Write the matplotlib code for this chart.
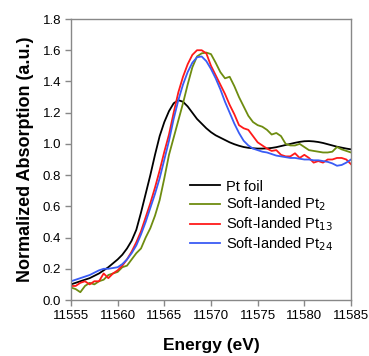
import numpy as np
import matplotlib
matplotlib.use('Agg')
import matplotlib.pyplot as plt

plt.rcParams['font.family'] = ['Liberation Sans', 'DejaVu Sans']

# energy grid (eV), 0.5 eV steps
energy = np.arange(11555, 11585.01, 0.5)

pt_foil = [0.10, 0.11, 0.12, 0.13, 0.14, 0.155, 0.17, 0.19, 0.21, 0.235,
           0.26, 0.29, 0.33, 0.38, 0.45, 0.56, 0.68, 0.80, 0.93, 1.05,
           1.14, 1.21, 1.26, 1.28, 1.27, 1.24, 1.20, 1.16, 1.13, 1.10,
           1.075, 1.055, 1.04, 1.025, 1.01, 0.998, 0.988, 0.98, 0.975, 0.972,
           0.97, 0.97, 0.971, 0.974, 0.979, 0.986, 0.993, 1.0, 1.007, 1.013,
           1.017, 1.018, 1.016, 1.012, 1.006, 0.998, 0.99, 0.982, 0.976, 0.97,
           0.965]

pt2 = [0.08, 0.07, 0.05, 0.09, 0.11, 0.10, 0.12, 0.13, 0.16, 0.17,
       0.18, 0.21, 0.22, 0.26, 0.30, 0.33, 0.40, 0.46, 0.54, 0.64,
       0.78, 0.93, 1.04, 1.15, 1.26, 1.38, 1.49, 1.56, 1.58, 1.585,
       1.575, 1.52, 1.46, 1.42, 1.43, 1.37, 1.30, 1.24, 1.18, 1.14,
       1.12, 1.11, 1.09, 1.06, 1.07, 1.05, 1.00, 0.99, 0.99, 1.00,
       0.98, 0.96, 0.955, 0.95, 0.945, 0.945, 0.95, 0.98, 0.965, 0.955,
       0.945]

pt13 = [0.09, 0.09, 0.11, 0.12, 0.10, 0.12, 0.12, 0.17, 0.14, 0.17,
        0.19, 0.22, 0.26, 0.31, 0.37, 0.44, 0.53, 0.62, 0.72, 0.83,
        0.95, 1.06, 1.20, 1.33, 1.43, 1.51, 1.57, 1.60, 1.60, 1.58,
        1.50, 1.44, 1.38, 1.32, 1.25, 1.19, 1.12, 1.10, 1.09, 1.05,
        1.01, 0.99, 0.97, 0.955, 0.96, 0.93, 0.92, 0.92, 0.94, 0.91,
        0.93, 0.91, 0.88, 0.89, 0.88, 0.90, 0.90, 0.91, 0.91, 0.90,
        0.87]

pt24 = [0.12, 0.13, 0.14, 0.15, 0.16, 0.175, 0.19, 0.20, 0.20, 0.205,
        0.21, 0.23, 0.26, 0.30, 0.35, 0.42, 0.50, 0.59, 0.68, 0.78,
        0.90, 1.02, 1.16, 1.28, 1.38, 1.46, 1.52, 1.555, 1.56, 1.53,
        1.48, 1.42, 1.35, 1.27, 1.20, 1.13, 1.07, 1.02, 0.99, 0.97,
        0.96, 0.95, 0.945, 0.935, 0.925, 0.92, 0.915, 0.91, 0.91, 0.905,
        0.90, 0.90, 0.895, 0.895, 0.89, 0.885, 0.875, 0.86, 0.865, 0.88,
        0.90]

xticks = [11555, 11560, 11565, 11570, 11575, 11580, 11585]
yticks = [0.0, 0.2, 0.4, 0.6, 0.8, 1.0, 1.2, 1.4, 1.6, 1.8]

fig = plt.figure(figsize=(3.69, 3.56), dpi=100)
ax = fig.add_axes([0.1924, 0.1573, 0.7588, 0.7893])

ax.plot(energy, pt_foil, color='black', lw=1.3, label='Pt foil')
ax.plot(energy, pt2, color='#6e8c10', lw=1.3, label='Soft-landed Pt$_2$')
ax.plot(energy, pt13, color='#ff1a1a', lw=1.3, label='Soft-landed Pt$_{13}$')
ax.plot(energy, pt24, color='#3a5cf5', lw=1.3, label='Soft-landed Pt$_{24}$')

ax.set_xlim(11555, 11585)
ax.set_ylim(0, 1.8)
ax.set_xticks(xticks)
ax.set_yticks(yticks)
ax.set_yticklabels(['%.1f' % v for v in yticks])

for s in ax.spines.values():
    s.set_color('#888888')
    s.set_linewidth(1.0)
ax.tick_params(direction='out', length=4, width=1, color='#888888',
               labelsize=9.5, pad=3)

ax.set_xlabel('Energy (eV)', fontsize=12.5, fontweight='bold', labelpad=12)
ax.set_ylabel('Normalized Absorption (a.u.)', fontsize=13, fontweight='bold', labelpad=6)

ax.legend(loc='upper left', bbox_to_anchor=(0.39, 0.465), frameon=False,
          fontsize=10.5, handlelength=2.0, handletextpad=0.45, labelspacing=0.15,
          borderpad=0.2)

fig.savefig('out.png', dpi=100)
